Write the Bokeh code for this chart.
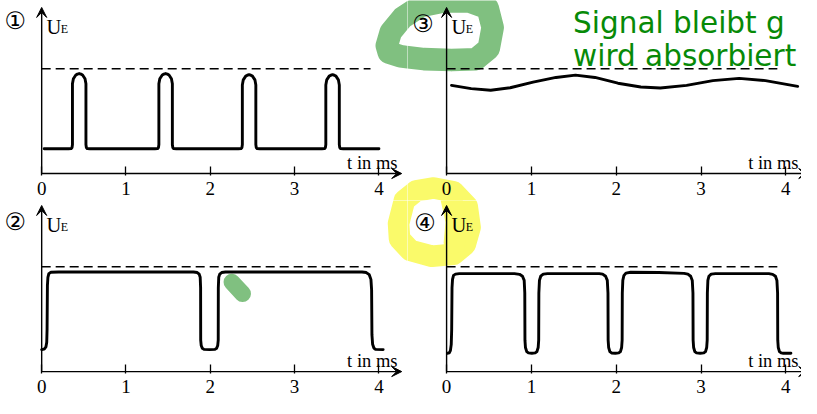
from bokeh.plotting import figure
from bokeh.layouts import gridplot
from bokeh.models import Range1d, Arrow, VeeHead, FixedTicker, LinearAxis
from bokeh.core.properties import value
from bokeh.embed import file_html
from bokeh.resources import INLINE

# ---------------- data ----------------
TICKS = [0, 1, 2, 3, 4]
TICK_LABELS = ["0", "1", "2", "3", "4"]
REF_LEVEL = 1.0              # dashed line = maximal received voltage
DASH_END = 3.9               # ms, where the dashed line stops
X_AXIS_END = 4.27            # ms, arrow tip of the time axis
Y_AXIS_END = 1.585           # arrow tip of the U axis
PANEL_NAMES = ["①", "②", "③", "④"]
X_LABEL = "t in ms"
Y_LABEL = "U"
Y_LABEL_SUB = "E"
NOTE_LINES = ["Signal bleibt g", "wird absorbiert"]

# panel 1: four short pulses
P1_T = [0.03,
        0.318, 0.350, 0.360, 0.365, 0.365, 0.376, 0.405, 0.424, 0.445, 0.466, 0.485, 0.514, 0.525, 0.525, 0.530, 0.540, 0.572,
        1.343, 1.375, 1.385, 1.390, 1.390, 1.401, 1.430, 1.449, 1.470, 1.491, 1.510, 1.539, 1.550, 1.550, 1.555, 1.565, 1.597,
        2.333, 2.365, 2.375, 2.380, 2.380, 2.391, 2.420, 2.439, 2.460, 2.481, 2.500, 2.529, 2.540, 2.540, 2.545, 2.555, 2.587,
        3.323, 3.355, 3.365, 3.370, 3.370, 3.381, 3.410, 3.429, 3.450, 3.471, 3.490, 3.519, 3.530, 3.530, 3.535, 3.545, 3.577,
        4.00]
P1_U = [0.236,
        0.236, 0.238, 0.248, 0.276, 0.856, 0.905, 0.941, 0.949, 0.954, 0.949, 0.941, 0.905, 0.856, 0.276, 0.248, 0.238, 0.236,
        0.236, 0.238, 0.248, 0.276, 0.856, 0.905, 0.941, 0.949, 0.954, 0.949, 0.941, 0.905, 0.856, 0.276, 0.248, 0.238, 0.236,
        0.236, 0.238, 0.248, 0.276, 0.845, 0.894, 0.930, 0.938, 0.943, 0.938, 0.930, 0.894, 0.845, 0.276, 0.248, 0.238, 0.236,
        0.236, 0.238, 0.248, 0.276, 0.845, 0.894, 0.930, 0.938, 0.943, 0.938, 0.930, 0.894, 0.845, 0.276, 0.248, 0.238, 0.236,
        0.236]

# panel 2: long high level with one short dip at 2 ms
P2_T = [0.0, 0.03, 0.05, 0.060, 0.064, 0.068, 0.074, 0.085, 0.11, 0.20,
        1.80, 1.845, 1.868, 1.880, 1.885, 1.886, 1.892, 1.905, 1.925, 1.99,
        2.055, 2.075, 2.088, 2.094, 2.095, 2.100, 2.112, 2.135, 2.18,
        3.80, 3.85, 3.885, 3.905, 3.913, 3.917, 3.925, 3.94, 3.96, 4.05]
P2_U = [0.21, 0.214, 0.235, 0.28, 0.40, 0.82, 0.90, 0.935, 0.948, 0.95,
        0.95, 0.945, 0.93, 0.90, 0.80, 0.30, 0.25, 0.222, 0.212, 0.21,
        0.212, 0.222, 0.25, 0.30, 0.80, 0.90, 0.93, 0.945, 0.95,
        0.95, 0.945, 0.925, 0.88, 0.78, 0.35, 0.26, 0.225, 0.212, 0.21]

# panel 3: weak, slowly varying signal
P3_T = [0.058, 0.29, 0.52, 0.75, 1.02, 1.29, 1.52, 1.75, 2.02, 2.29, 2.52, 2.83, 3.14, 3.45, 3.76, 4.14]
P3_U = [0.841, 0.810, 0.795, 0.819, 0.872, 0.917, 0.939, 0.917, 0.862, 0.826, 0.817, 0.841, 0.887, 0.908, 0.887, 0.832]

# panel 4: high level with dips at 1, 2, 3 ms
P4_T = [0.01, 0.03, 0.045, 0.055, 0.060, 0.064, 0.070, 0.082, 0.105, 0.15,
        0.80, 0.86, 0.895, 0.915, 0.922, 0.924, 0.930, 0.945, 0.965, 1.005,
        1.045, 1.065, 1.080, 1.086, 1.088, 1.095, 1.11, 1.14, 1.19,
        1.80, 1.84, 1.875, 1.895, 1.903, 1.905, 1.911, 1.925, 1.945, 1.99,
        2.03, 2.05, 2.064, 2.070, 2.072, 2.078, 2.09, 2.115, 2.17, 2.50,
        2.80, 2.845, 2.878, 2.897, 2.905, 2.907, 2.913, 2.927, 2.947, 2.99,
        3.033, 3.053, 3.067, 3.073, 3.075, 3.081, 3.093, 3.12, 3.17,
        3.80, 3.845, 3.878, 3.895, 3.903, 3.905, 3.911, 3.925, 3.945, 3.97, 4.06]
P4_U = [0.175, 0.178, 0.20, 0.26, 0.40, 0.80, 0.88, 0.918, 0.93, 0.935,
        0.935, 0.928, 0.91, 0.87, 0.75, 0.30, 0.23, 0.19, 0.178, 0.175,
        0.178, 0.19, 0.23, 0.30, 0.75, 0.87, 0.91, 0.93, 0.935,
        0.935, 0.93, 0.91, 0.87, 0.75, 0.30, 0.23, 0.19, 0.178, 0.175,
        0.178, 0.19, 0.23, 0.30, 0.75, 0.87, 0.915, 0.94, 0.948, 0.945,
        0.937, 0.93, 0.91, 0.87, 0.75, 0.30, 0.23, 0.19, 0.178, 0.175,
        0.178, 0.19, 0.23, 0.30, 0.75, 0.87, 0.91, 0.93, 0.935,
        0.935, 0.928, 0.91, 0.87, 0.75, 0.30, 0.23, 0.19, 0.178, 0.175, 0.175]

# hand-drawn highlighter strokes (page pixel coordinates of the scan)
GREEN_LOOP_X = [394, 398, 410, 428, 452, 478, 497, 502, 498, 485, 460, 432, 408, 396, 394]
GREEN_LOOP_Y = [47, 33, 18, 6, 1, 1, 8, 28, 50, 61, 62, 61, 58, 54, 47]
GREEN_DASH_X = [236, 247]
GREEN_DASH_Y = [293, 305]
YELLOW_LOOP_X = [406, 412, 424, 442, 462, 476, 479, 474, 462, 440, 418, 407, 406]
YELLOW_LOOP_Y = [232, 208, 198, 195, 199, 214, 236, 254, 264, 266, 260, 248, 232]
YELLOW_FILL_X = [460, 465, 463]
YELLOW_FILL_Y = [207, 230, 252]

# ---------------- styles / layout ----------------
W, H = 801, 398
SX, SY = W / 817, H / 414
WL = round(415 * SX)
WR = W - WL
HT = round(208 * SY)
HB = H - HT
SERIF = "Liberation Serif"
GREEN_HL = "#80c080"
YELLOW_HL = "#fafa6a"
NOTE_GREEN = "#078a07"


def make_panel(px0, px1, py0, py1, ox, oy, kx, ky, w, h,
               t, u, name, name_pos, xlabel_end):
    # page-pixel rectangle covered by this figure -> data ranges
    p = figure(width=w, height=h, output_backend="svg", toolbar_location=None,
               x_range=Range1d((px0 - ox) / kx, (px1 - ox) / kx),
               y_range=Range1d((oy - py1) / ky, (oy - py0) / ky),
               min_border=0, x_axis_location=None, y_axis_location=None)
    p.extra_x_ranges = {"px": Range1d(px0, px1)}
    p.extra_y_ranges = {"px": Range1d(py1, py0)}
    p.outline_line_color = None
    p.background_fill_color = "white"
    p.border_fill_color = "white"
    p.grid.grid_line_color = None

    # highlighter strokes (under everything)
    hl = dict(x_range_name="px", y_range_name="px", line_join="round",
              line_cap="round", level="underlay")
    p.line(GREEN_LOOP_X, GREEN_LOOP_Y, line_color=GREEN_HL, line_width=23 * SX, **hl)
    p.line(GREEN_DASH_X, GREEN_DASH_Y, line_color=GREEN_HL, line_width=17 * SX, **hl)
    p.line(YELLOW_LOOP_X, YELLOW_LOOP_Y, line_color=YELLOW_HL, line_width=22 * SX, **hl)
    p.line(YELLOW_FILL_X, YELLOW_FILL_Y, line_color=YELLOW_HL, line_width=22 * SX, **hl)

    # time axis: ticks + labels from Bokeh's axis
    xaxis = LinearAxis(fixed_location=0, ticker=FixedTicker(ticks=TICKS),
                       major_label_overrides={k: s for k, s in zip(TICKS, TICK_LABELS)},
                       axis_line_color=None, minor_tick_line_color=None,
                       major_tick_in=7, major_tick_out=2, major_tick_line_width=1.3,
                       major_label_standoff=6,
                       major_label_text_font=SERIF, major_label_text_font_size="19px",
                       major_label_text_color="black")
    p.add_layout(xaxis, "below")

    # axis lines with arrow heads
    p.add_layout(Arrow(end=VeeHead(size=10, fill_color="black", line_color="black", line_width=1),
                       x_start=0, y_start=0, x_end=X_AXIS_END, y_end=0,
                       line_width=1.4, line_color="black"))
    p.add_layout(Arrow(end=VeeHead(size=10, fill_color="black", line_color="black", line_width=1),
                       x_start=0, y_start=0, x_end=0, y_end=Y_AXIS_END,
                       line_width=1.4, line_color="black"))

    # dashed reference level
    p.line([0, DASH_END], [REF_LEVEL, REF_LEVEL], line_color="black",
           line_width=1.4, line_dash="9 5")

    # signal
    p.line(t, u, line_color="black", line_width=2.9, line_join="round", line_cap="round")

    # axis texts
    p.text([xlabel_end], [0.105], text=[X_LABEL], text_font=value(SERIF), text_font_size="18.5px",
           text_align="right", text_baseline="alphabetic", text_color="black")
    p.text([0.058], [1.395], text=[Y_LABEL], text_font=value(SERIF), text_font_size="20.5px",
           text_align="left", text_baseline="alphabetic", text_color="black")
    p.text([0.225], [1.382], text=[Y_LABEL_SUB], text_font=value(SERIF), text_font_size="12px",
           text_align="left", text_baseline="alphabetic", text_color="black")
    p.text([name_pos[0]], [name_pos[1]], text=[name], text_font=value("DejaVu Sans"),
           text_font_size="24px", text_align="center", text_baseline="middle",
           text_color="black")
    return p


p1 = make_panel(0, WL / SX, 0, HT / SY, 42, 180, 86.0, 109.0, WL, HT,
                P1_T, P1_U, PANEL_NAMES[0], (-0.314, 1.46), 4.22)
p3 = make_panel(WL / SX, 817, 0, HT / SY, 455, 180, 86.5, 109.0, WR, HT,
                P3_T, P3_U, PANEL_NAMES[2], (-0.277, 1.43), 4.15)
p2 = make_panel(0, WL / SX, HT / SY, 414, 42, 386, 86.0, 109.0, WL, HB,
                P2_T, P2_U, PANEL_NAMES[1], (-0.314, 1.427), 4.22)
p4 = make_panel(WL / SX, 817, HT / SY, 414, 455, 386, 86.5, 109.0, WR, HB,
                P4_T, P4_U, PANEL_NAMES[3], (-0.254, 1.42), 4.15)

# green handwritten note in panel 3
p3.text([584, 584], [23, 58], text=NOTE_LINES, x_range_name="px", y_range_name="px",
        text_font=value("DejaVu Sans"), text_font_size="29.5px", text_align="left",
        text_baseline="alphabetic", text_color=NOTE_GREEN)

grid = gridplot([[p1, p3], [p2, p4]], toolbar_location=None)

open("out.html", "w").write(file_html(grid, INLINE))
